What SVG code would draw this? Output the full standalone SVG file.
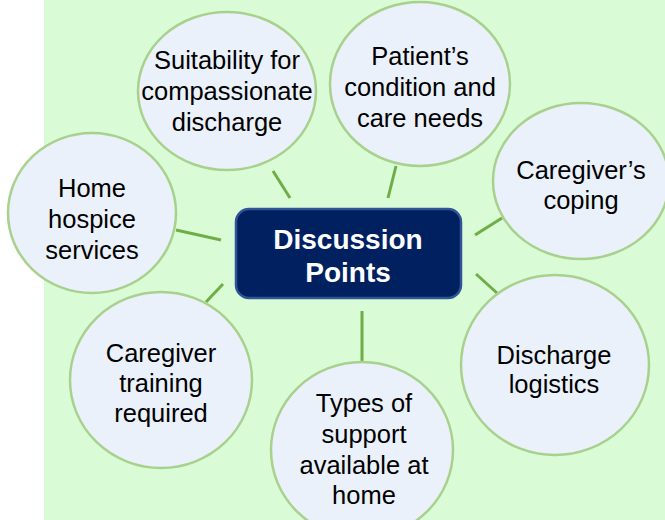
<svg xmlns="http://www.w3.org/2000/svg" width="665" height="520" viewBox="0 0 665 520">
<style>
.bubble ellipse{fill:#eaf1fb;stroke:#a9d18e;stroke-width:2.5}
.bubble text{font-family:"Liberation Sans",Arial,sans-serif;font-size:25.5px;fill:#000;text-anchor:middle}
#connectors line{stroke:#70ad47;stroke-width:3}
#center rect{fill:#002060;stroke:#2f5597;stroke-width:2.5}
#center text{font-family:"Liberation Sans",Arial,sans-serif;font-size:28px;font-weight:bold;fill:#fff;text-anchor:middle}
</style>
<rect x="0" y="0" width="665" height="520" fill="#ffffff"/>
<rect x="44" y="0" width="621" height="520" fill="#d9fcd6"/>
<g id="connectors">
<line x1="273" y1="171" x2="290" y2="198"/>
<line x1="396" y1="166" x2="388" y2="198"/>
<line x1="475" y1="235" x2="502" y2="218"/>
<line x1="476" y1="274" x2="497" y2="293"/>
<line x1="362" y1="311" x2="362" y2="362"/>
<line x1="223" y1="284" x2="206" y2="302"/>
<line x1="176" y1="230" x2="221" y2="240"/>
</g>
<g id="center">
<rect x="236" y="209" width="225" height="89" rx="13"/>
<text x="348" y="249">Discussion</text>
<text x="348" y="282">Points</text>
</g>
<g id="n-suitability" class="bubble">
<ellipse cx="227" cy="91" rx="89" ry="79"/>
<text x="227" y="69">Suitability for</text>
<text x="227" y="100">compassionate</text>
<text x="227" y="131">discharge</text>
</g>
<g id="n-patient" class="bubble">
<ellipse cx="420" cy="84" rx="90" ry="82"/>
<text x="420" y="65">Patient’s</text>
<text x="420" y="96">condition and</text>
<text x="420" y="127">care needs</text>
</g>
<g id="n-coping" class="bubble">
<ellipse cx="581" cy="181" rx="88" ry="78"/>
<text x="581" y="179">Caregiver’s</text>
<text x="581" y="209">coping</text>
</g>
<g id="n-hospice" class="bubble">
<ellipse cx="92" cy="213" rx="84" ry="80"/>
<text x="92" y="197">Home</text>
<text x="92" y="228">hospice</text>
<text x="92" y="259">services</text>
</g>
<g id="n-training" class="bubble">
<ellipse cx="161" cy="380" rx="91" ry="88"/>
<text x="161" y="362">Caregiver</text>
<text x="161" y="392">training</text>
<text x="161" y="422">required</text>
</g>
<g id="n-support" class="bubble">
<ellipse cx="362" cy="450" rx="91" ry="88"/>
<text x="364" y="412">Types of</text>
<text x="364" y="443">support</text>
<text x="364" y="474">available at</text>
<text x="364" y="504">home</text>
</g>
<g id="n-logistics" class="bubble">
<ellipse cx="555" cy="365" rx="94" ry="90"/>
<text x="554" y="364">Discharge</text>
<text x="554" y="393">logistics</text>
</g>
</svg>
